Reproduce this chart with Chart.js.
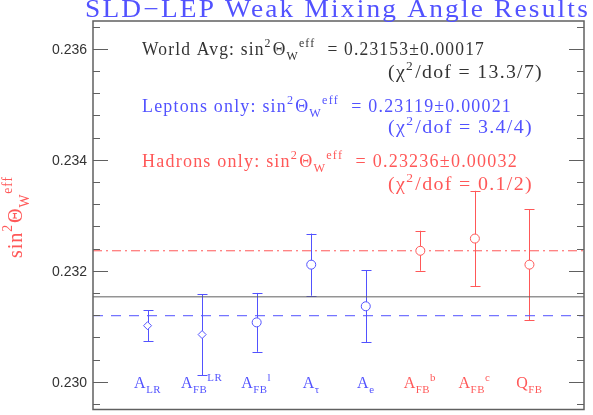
<!DOCTYPE html>
<html>
<head>
<meta charset="utf-8">
<script src="https://cdn.jsdelivr.net/npm/chart.js@4"></script>
<style>
  body { margin: 0; background: #fff; }
</style>
</head>
<body>
<canvas id="chart" width="593" height="415"></canvas>
<script>
'use strict';
// 測定値 (SLD + LEP)
const categories = ['A_LR', 'A_FB^LR', 'A_FB^l', 'A_tau', 'A_e', 'A_FB^b', 'A_FB^c', 'Q_FB'];
const xPos = [1, 2, 3, 4, 5, 6, 7, 8];
const values = [0.23101, 0.23085, 0.23107, 0.23211, 0.23136, 0.23236, 0.23258, 0.23211];
const errors = [0.00028, 0.00073, 0.00053, 0.00056, 0.00065, 0.00036, 0.00086, 0.00100];
const groups = ['lep', 'lep', 'lep', 'lep', 'lep', 'had', 'had', 'had'];
const markers = ['rectRot', 'rectRot', 'circle', 'circle', 'circle', 'circle', 'circle', 'circle'];

// 平均値
const worldAvg = 0.23153;
const leptonAvg = 0.23119;
const hadronAvg = 0.23236;

// 目盛り
const yTicks = [0.230, 0.232, 0.234, 0.236];
const yMinorStep = 0.0004;

// 色
const BLUE = '#5252ff';
const RED = '#ff5858';
const DARK = '#333333';
const FRAME = '#606060';

// ラベルの上付き・下付き
const LABEL_PARTS = {
  'A_LR': [['A', ''], ['LR', 'sub']],
  'A_FB^LR': [['A', ''], ['FB', 'sub'], ['LR', 'sup']],
  'A_FB^l': [['A', ''], ['FB', 'sub'], ['l', 'sup']],
  'A_tau': [['A', ''], ['τ', 'sub']],
  'A_e': [['A', ''], ['e', 'sub']],
  'A_FB^b': [['A', ''], ['FB', 'sub'], ['b', 'sup']],
  'A_FB^c': [['A', ''], ['FB', 'sub'], ['c', 'sup']],
  'Q_FB': [['Q', ''], ['FB', 'sub']],
};

const SERIF = '"Liberation Serif", "DejaVu Serif", serif';

// 上付き・下付きを含む文字列を描く
function richText(ctx, x, y, parts, size, color, width, align, spacing) {
  ctx.save();
  ctx.letterSpacing = (spacing || 0) + 'px';
  let w = 0;
  const items = parts.map(([t, m]) => {
    const s = m ? size * 0.68 : size;
    ctx.font = `${s}px ${SERIF}`;
    const tw = ctx.measureText(t).width;
    const it = { t, m, s, x: w };
    w += tw + (m === 'sup' ? 1 : 0);
    return it;
  });
  const sx = width ? width / w : 1;
  ctx.translate(align === 'center' ? x - (w * sx) / 2 : x, y);
  ctx.scale(sx, 1);
  ctx.fillStyle = color;
  ctx.textAlign = 'left';
  ctx.textBaseline = 'alphabetic';
  items.forEach((it) => {
    ctx.font = `${it.s}px ${SERIF}`;
    const dy = it.m === 'sup' ? -size * 0.45 : it.m === 'sub' ? size * 0.3 : 0;
    ctx.fillText(it.t, it.x, dy);
  });
  ctx.restore();
}

function sinLine(prefix, value) {
  return [[prefix + 'sin', ''], ['2', 'sup'], ['Θ', ''], ['W', 'sub'], ['eff', 'sup'], ['  = ' + value, '']];
}

function chiLine(text) {
  return [['(χ', ''], ['2', 'sup'], ['/dof = ' + text + ')', '']];
}

const decor = {
  id: 'decor',
  beforeDatasetsDraw(chart) {
    const { ctx } = chart;
    const xs = chart.scales.x;
    const ys = chart.scales.y;
    ctx.save();
    ctx.lineWidth = 1;
    values.forEach((v, i) => {
      const px = Math.round(xs.getPixelForValue(xPos[i])) + 0.5;
      const top = ys.getPixelForValue(v + errors[i]);
      const bot = ys.getPixelForValue(v - errors[i]);
      ctx.strokeStyle = groups[i] === 'lep' ? BLUE : RED;
      ctx.beginPath();
      ctx.moveTo(px, top);
      ctx.lineTo(px, bot);
      ctx.moveTo(px - 5, Math.round(top) + 0.5);
      ctx.lineTo(px + 5, Math.round(top) + 0.5);
      ctx.moveTo(px - 5, Math.round(bot) + 0.5);
      ctx.lineTo(px + 5, Math.round(bot) + 0.5);
      ctx.stroke();
    });
    ctx.restore();
  },
  afterDraw(chart) {
    const { ctx, chartArea: a } = chart;
    const xs = chart.scales.x;
    const ys = chart.scales.y;
    ctx.save();

    // 枠
    ctx.strokeStyle = FRAME;
    ctx.lineWidth = 1.5;
    ctx.strokeRect(a.left, a.top, a.right - a.left, a.bottom - a.top);

    // 目盛り (内向き)
    ctx.lineWidth = 1.2;
    for (let v = 0.2296; v < ys.max; v += yMinorStep) {
      const py = Math.round(ys.getPixelForValue(v)) + 0.5;
      const major = yTicks.some((t) => Math.abs(t - v) < 1e-7);
      const len = major ? 15 : 7;
      ctx.beginPath();
      ctx.moveTo(a.left, py);
      ctx.lineTo(a.left + len, py);
      ctx.moveTo(a.right, py);
      ctx.lineTo(a.right - len, py);
      ctx.stroke();
    }
    ctx.fillStyle = DARK;
    ctx.font = '14px "Liberation Sans", Arial, sans-serif';
    ctx.textAlign = 'right';
    ctx.textBaseline = 'middle';
    yTicks.forEach((t) => {
      ctx.fillText(t.toFixed(3), a.left - 6, ys.getPixelForValue(t) + 1);
    });

    // カテゴリーラベル
    const labelY = ys.getPixelForValue(0.22989);
    categories.forEach((c, i) => {
      const color = groups[i] === 'lep' ? BLUE : RED;
      richText(ctx, xs.getPixelForValue(xPos[i]), labelY, LABEL_PARTS[c], 16, color, 0, 'center', 0.5);
    });

    // タイトル
    richText(ctx, 85, 17, [['SLD−LEP Weak Mixing Angle Results', '']], 25, BLUE, 505, '', 2);

    // 注釈
    richText(ctx, 142, 55, sinLine('World Avg: ', '0.23153±0.00017'), 18, DARK, 343, '', 1.2);
    richText(ctx, 388, 78, chiLine('13.3/7'), 18, DARK, 155, '', 1.2);
    richText(ctx, 142, 112, sinLine('Leptons only: ', '0.23119±0.00021'), 18, BLUE, 370, '', 1.2);
    richText(ctx, 388, 133, chiLine('3.4/4'), 18, BLUE, 145, '', 1.2);
    richText(ctx, 142, 167, sinLine('Hadrons only: ', '0.23236±0.00032'), 18, RED, 376, '', 1.2);
    richText(ctx, 388, 190, chiLine('0.1/2'), 18, RED, 145, '', 1.2);

    // 縦軸タイトル
    ctx.translate(22, 258);
    ctx.rotate(-Math.PI / 2);
    richText(ctx, 0, 0, [['sin', ''], ['2', 'sup'], ['Θ', ''], ['W', 'sub'], ['eff', 'sup']], 22, RED, 83, '', 1);
    ctx.restore();
  },
};

function avgLine(y, color, dash, order) {
  return {
    type: 'line',
    data: [{ x: 0, y }, { x: 9, y }],
    borderColor: color,
    borderWidth: 1,
    borderDash: dash,
    pointRadius: 0,
    order,
  };
}

const pointData = values.map((v, i) => ({ x: xPos[i], y: v }));

new Chart(document.getElementById('chart'), {
  type: 'scatter',
  data: {
    datasets: [
      {
        data: pointData,
        pointStyle: markers,
        pointRadius: markers.map((m) => (m === 'circle' ? 4.5 : 4)),
        pointBackgroundColor: '#ffffff',
        pointBorderColor: groups.map((g) => (g === 'lep' ? BLUE : RED)),
        pointBorderWidth: 1,
        order: 0,
      },
      avgLine(worldAvg, FRAME, [], 1),
      avgLine(leptonAvg, BLUE, [10, 8], 1),
      avgLine(hadronAvg, RED, [9, 4, 2, 4], 1),
    ],
  },
  options: {
    responsive: false,
    animation: false,
    devicePixelRatio: 1,
    layout: { padding: { left: 93, top: 21, right: 9, bottom: 2 } },
    scales: {
      x: { type: 'linear', min: 0, max: 9, display: false },
      y: { type: 'linear', min: 0.2295, max: 0.2365, display: false },
    },
    plugins: {
      legend: { display: false },
      tooltip: { enabled: false },
    },
  },
  plugins: [decor],
});
</script>
</body>
</html>
